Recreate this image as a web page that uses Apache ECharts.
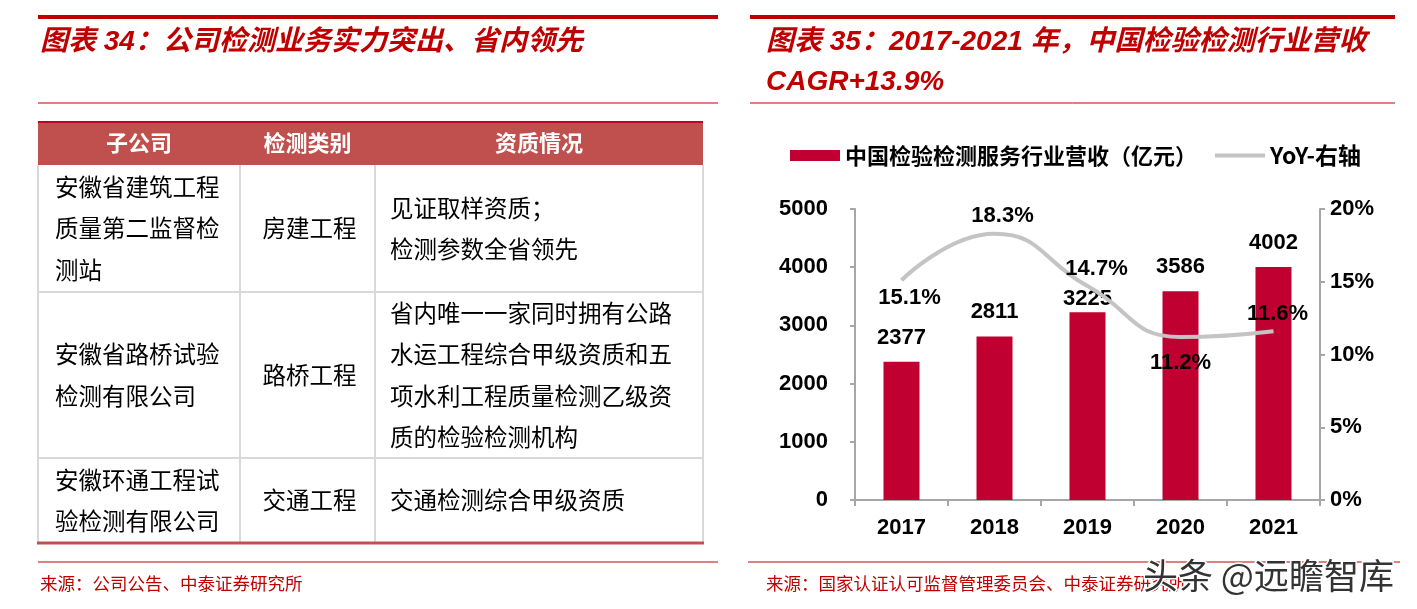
<!DOCTYPE html>
<html>
<head>
<meta charset="utf-8">
<script src="https://cdn.jsdelivr.net/npm/echarts@6/dist/echarts.min.js"></script>
<style>
html,body{margin:0;padding:0;background:#fff;}
#main{width:1417px;height:609px;}
</style>
</head>
<body>
<div id="main"></div>
<script>
// ---- data ----
const years = ['2017', '2018', '2019', '2020', '2021'];
const revenue = [2377, 2811, 3225, 3586, 4002];
const yoy = [15.1, 18.3, 14.7, 11.2, 11.6];
const yoyLabelPos = ['bottom', 'top', 'top', 'bottom', 'top'];
const seriesNames = ['中国检验检测服务行业营收（亿元）', 'YoY-右轴'];

const leftTitle = '图表 34：公司检测业务实力突出、省内领先';
const rightTitle1 = '图表 35：2017-2021 年，中国检验检测行业营收';
const rightTitle2 = 'CAGR+13.9%';
const leftSource = '来源：公司公告、中泰证券研究所';
const rightSource = '来源：国家认证认可监督管理委员会、中泰证券研究所';
const watermark = '头条 @远瞻智库';

const tableHeader = ['子公司', '检测类别', '资质情况'];
const tableCompany = [
  ['安徽省建筑工程', '质量第二监督检', '测站'],
  ['安徽省路桥试验', '检测有限公司'],
  ['安徽环通工程试', '验检测有限公司']
];
const tableType = ['房建工程', '路桥工程', '交通工程'];
const tableQual = [
  ['见证取样资质；', '检测参数全省领先'],
  ['省内唯一一家同时拥有公路', '水运工程综合甲级资质和五', '项水利工程质量检测乙级资', '质的检验检测机构'],
  ['交通检测综合甲级资质']
];

// ---- layout ----
const RED = '#c00000';
const CJK = '"Noto Sans CJK SC", sans-serif';
const NUM = '"Liberation Sans", Arial, sans-serif';
const colX = [38, 240, 375, 703];
const rowY = [121, 165, 292, 458, 543];
const pitch = 41.5;
const yoyLabelOffset = [[8, 0], [8, 0], [9, 0], [0, 8], [4, 0]];
const barLabelDist = [13, 13, 2, 13, 13];

const g = [];
function line(x1, y1, x2, y2, stroke, w, z) {
  g.push({type: 'line', z: z || 1, shape: {x1, y1, x2, y2}, style: {stroke, lineWidth: w}});
}
function text(t, x, y, o) {
  g.push({type: 'text', z: (o && o.z) || 5, style: Object.assign({
    text: t, x, y, textAlign: 'left', textVerticalAlign: 'middle',
    fill: '#000', fontFamily: CJK, fontSize: 22, fontWeight: 'normal'
  }, o || {})});
}

// panel rules
line(38, 17, 718, 17, RED, 4);
line(38, 103, 718, 103, RED, 1);
line(38, 562, 718, 562, RED, 1);
line(750, 17, 1395, 17, RED, 4);
line(750, 103, 1395, 103, RED, 1);
line(748, 562, 1400, 562, RED, 1);

// titles
const titleStyle = {fill: RED, fontSize: 28, fontWeight: 'bold', fontStyle: 'italic', fontFamily: '"Liberation Sans", "Noto Sans CJK SC", sans-serif'};
text(leftTitle, 40, 42, titleStyle);
text(rightTitle1, 766, 42, titleStyle);
text(rightTitle2, 766, 82, titleStyle);

// sources
text(leftSource, 40, 583, {fill: RED, fontSize: 17.5});
text(rightSource, 766, 583, {fill: RED, fontSize: 17.5});
text(watermark, 1143, 576, {fill: '#333', fontSize: 35, stroke: '#fff', lineWidth: 3, z: 10});

// table
g.push({type: 'rect', z: 1, shape: {x: colX[0], y: rowY[0], width: colX[3] - colX[0], height: rowY[1] - rowY[0]}, style: {fill: '#c0504d'}});
line(colX[0], rowY[0] + 1, colX[3], rowY[0] + 1, '#c0002f', 2, 2);
[rowY[2], rowY[3]].forEach(y => line(colX[0], y, colX[3], y, '#d9d9d9', 2));
colX.forEach(x => line(x, rowY[1], x, rowY[4], '#d9d9d9', 2));
line(colX[0] - 1, rowY[4], colX[3] + 1, rowY[4], '#c0504d', 3, 3);

tableHeader.forEach((h, i) => {
  text(h, (colX[i] + colX[i + 1]) / 2, 143, {fill: '#fff', fontWeight: 'bold', fontSize: 22, textAlign: 'center'});
});
for (let r = 0; r < 3; r++) {
  const cy = (rowY[r + 1] + rowY[r + 2]) / 2;
  tableCompany[r].forEach((t, i, a) => text(t, 55, cy + (i - (a.length - 1) / 2) * pitch, {fontSize: 23.5}));
  text(tableType[r], (colX[1] + colX[2]) / 2 + 2, cy, {fontSize: 23.5, textAlign: 'center'});
  tableQual[r].forEach((t, i, a) => text(t, 390, cy + (i - (a.length - 1) / 2) * pitch, {fontSize: 23.5}));
}

// ---- chart ----
const chart = echarts.init(document.getElementById('main'), null, {renderer: 'canvas'});
const axisCol = '#a6a6a6';
const lineCol = '#c4c4c4';
const numLabel = {color: '#000', fontFamily: NUM, fontWeight: 'bold', fontSize: 22};

chart.setOption({
  animation: false,
  backgroundColor: '#fff',
  graphic: g,
  legend: {
    left: 785, top: 139,
    itemWidth: 50, itemHeight: 11, itemGap: 16,
    textStyle: {color: '#000', fontFamily: CJK, fontWeight: 'bold', fontSize: 22},
    data: [
      {name: seriesNames[0], icon: 'rect'},
      {name: seriesNames[1], lineStyle: {width: 4, color: lineCol}, textStyle: {fontSize: 23}}
    ]
  },
  grid: {left: 855, right: 97, top: 209, bottom: 109, containLabel: false},
  xAxis: {
    type: 'category', data: years,
    axisLine: {lineStyle: {color: axisCol, width: 2}},
    axisTick: {show: true, length: 6, lineStyle: {color: axisCol, width: 2}},
    axisLabel: Object.assign({margin: 17}, numLabel)
  },
  yAxis: [{
    type: 'value', min: 0, max: 5000, interval: 1000,
    axisLine: {show: true, lineStyle: {color: axisCol, width: 2}},
    axisTick: {show: true, length: 5, lineStyle: {color: axisCol, width: 2}},
    splitLine: {show: false},
    axisLabel: Object.assign({margin: 27, formatter: v => String(v)}, numLabel)
  }, {
    type: 'value', min: 0, max: 20, interval: 5, position: 'right',
    axisLine: {show: true, lineStyle: {color: axisCol, width: 2}},
    axisTick: {show: true, length: 5, lineStyle: {color: axisCol, width: 2}},
    splitLine: {show: false},
    axisLabel: Object.assign({margin: 10, formatter: '{value}%'}, numLabel)
  }],
  series: [{
    name: seriesNames[0], type: 'bar', yAxisIndex: 0,
    data: revenue.map((v, i) => ({value: v, label: {distance: barLabelDist[i]}})),
    barWidth: 36, itemStyle: {color: '#c00031'},
    label: Object.assign({show: true, position: 'top'}, numLabel),
    z: 2
  }, {
    name: seriesNames[1], type: 'line', yAxisIndex: 1,
    data: yoy.map((v, i) => ({value: v, label: {position: yoyLabelPos[i], offset: yoyLabelOffset[i]}})),
    smooth: true, symbol: 'circle', symbolSize: 1, showSymbol: true,
    lineStyle: {color: lineCol, width: 4},
    itemStyle: {color: 'rgba(0,0,0,0)'},
    label: Object.assign({show: true, distance: 6, formatter: p => p.value.toFixed(1) + '%'}, numLabel),
    z: 3
  }]
});
</script>
</body>
</html>
